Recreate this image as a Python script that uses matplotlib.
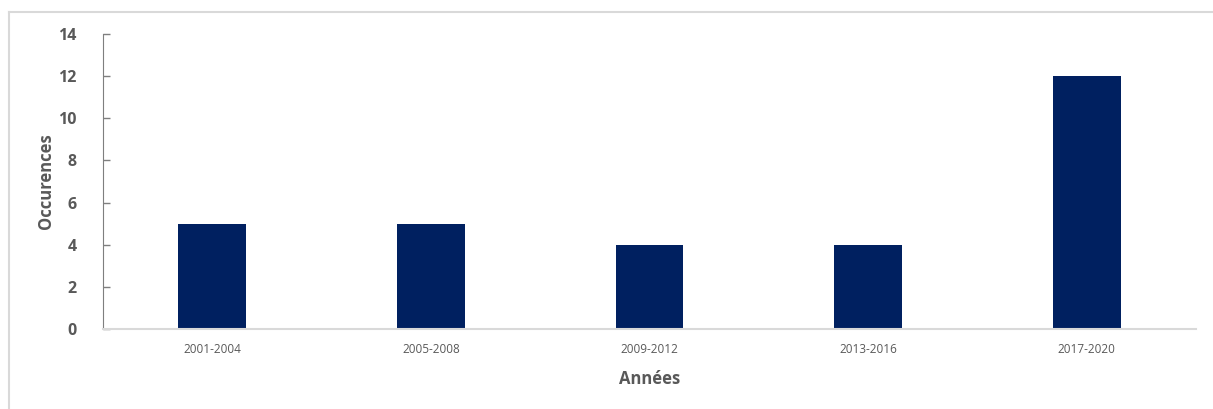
import matplotlib.pyplot as plt
from matplotlib.lines import Line2D

# Datos del gráfico
periodes = ["2001-2004", "2005-2008", "2009-2012", "2013-2016", "2017-2020"]
occurences = [5, 5, 4, 4, 12]

plt.rcParams['font.family'] = ['Open Sans', 'DejaVu Sans']

fig = plt.figure(figsize=(12.13, 4.09), dpi=100)
ax = fig.add_axes([103 / 1213, 80 / 409, 1093 / 1213, 295 / 409])

x = range(len(periodes))
ax.bar(x, occurences, width=0.31, color="#002060", zorder=2)

ax.set_xlim(-0.5, len(periodes) - 0.5)
ax.set_ylim(0, 14)
ax.set_yticks(range(0, 15, 2))
ax.set_xticks(list(x))
ax.set_xticklabels(periodes, fontsize=8.5, color="#595959")
ax.tick_params(axis="y", direction="in", length=5, width=1, color="#7f7f7f",
               labelsize=11.5, labelcolor="#595959", pad=19)
for lbl in ax.get_yticklabels():
    lbl.set_fontweight("bold")
ax.tick_params(axis="x", length=0, pad=10)

ax.spines["top"].set_visible(False)
ax.spines["right"].set_visible(False)
ax.spines["left"].set_color("#7f7f7f")
ax.spines["bottom"].set_color("#d9d9d9")
ax.spines["bottom"].set_linewidth(1.5)

ax.set_xlabel("Années", fontsize=12, fontweight="bold", color="#595959", labelpad=10)
ax.set_ylabel("Occurences", fontsize=12, fontweight="bold", color="#595959")
ax.yaxis.set_label_coords(-48 / 1093, 0.5)

# Cadre gris clair autour du graphique
fig.add_artist(Line2D([9 / 1213, 1.0], [1 - 12 / 409, 1 - 12 / 409],
                      transform=fig.transFigure, color="#d9d9d9", lw=1.5))
fig.add_artist(Line2D([9 / 1213, 9 / 1213], [0, 1 - 12 / 409],
                      transform=fig.transFigure, color="#d9d9d9", lw=1.5))

fig.savefig("out.png", dpi=100)
